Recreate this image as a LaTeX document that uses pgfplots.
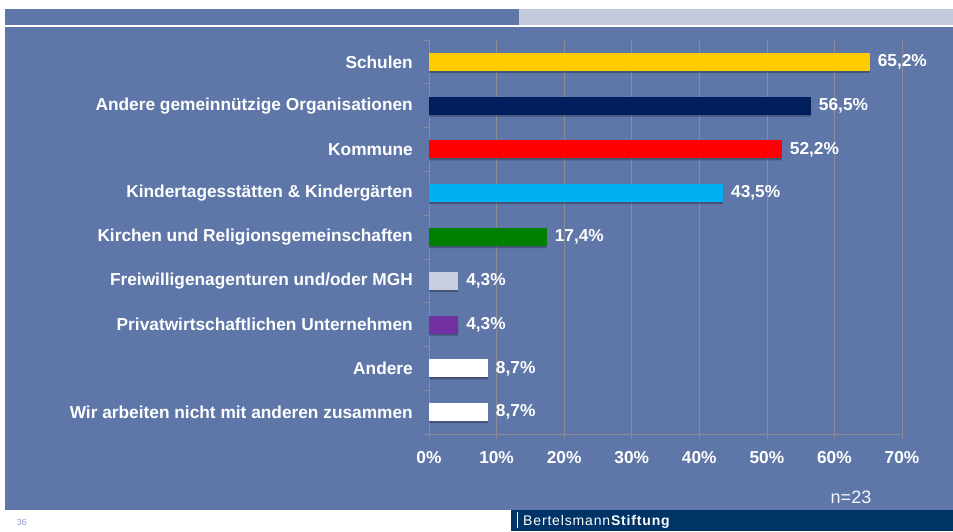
\documentclass[border=0pt]{standalone}
\usepackage{fontspec}
\setmainfont{Liberation Sans}
\usepackage{pgfplots}
\pgfplotsset{compat=1.18}
\definecolor{panel}{RGB}{94,119,168}
\definecolor{bandlight}{RGB}{195,203,221}
\definecolor{gridgray}{RGB}{138,140,150}
\definecolor{cyellow}{RGB}{255,204,0}
\definecolor{cnavy}{RGB}{0,31,92}
\definecolor{cred}{RGB}{255,0,0}
\definecolor{cblue}{RGB}{0,176,240}
\definecolor{cgreen}{RGB}{0,128,0}
\definecolor{clav}{RGB}{200,206,224}
\definecolor{cpurple}{RGB}{112,48,160}
\definecolor{bsbox}{RGB}{0,51,102}
\definecolor{pagenum}{RGB}{139,157,203}
\begin{document}
\begin{tikzpicture}
\useasboundingbox (0pt,0pt) rectangle (953pt,531pt);
\fill[white] (0pt,0pt) rectangle (953pt,531pt);
\fill[panel] (5pt,21pt) rectangle (953pt,504pt);
\fill[panel] (5pt,506pt) rectangle (519pt,522pt);
\fill[bandlight] (519pt,506pt) rectangle (953pt,522pt);
\fill[bsbox] (511pt,0pt) rectangle (953pt,21pt);
\fill[white] (516.5pt,3pt) rectangle (518pt,19pt);
\node[anchor=west, inner sep=0pt, text=white, font=\fontsize{14}{14}\selectfont\addfontfeature{LetterSpace=6}] at (523pt,9.5pt) {Bertelsmann\textbf{Stiftung}};
\node[text=pagenum, font=\fontsize{9}{9}\selectfont, inner sep=0pt] at (22pt,9pt) {36};
\node[text=white!95!gray, font=\fontsize{18}{18}\selectfont, inner sep=0pt] at (851pt,34pt) {n=23};
\begin{axis}[
  at={(429pt,97pt)}, anchor=south west,
  scale only axis, width=473pt, height=394pt,
  xmin=0, xmax=70, ymin=-0.5, ymax=8.5,
  xbar, bar width=18pt,
  axis lines*=left,
  axis line style={draw=gridgray, line width=0.7pt},
  tick style={draw=gridgray, line width=0.7pt},
  tick align=outside,
  major tick length=5pt, minor tick length=5pt,
  xtick={0,10,...,70},
  xticklabels={0\%,10\%,20\%,30\%,40\%,50\%,60\%,70\%},
  xmajorgrids,
  major grid style={draw=gridgray, line width=0.7pt},
  ytick={0,...,8},
  yticklabels={Wir arbeiten nicht mit anderen zusammen, Andere, Privatwirtschaftlichen Unternehmen, Freiwilligenagenturen und/oder MGH, Kirchen und Religionsgemeinschaften, Kindertagesstätten \& Kindergärten, Kommune, Andere gemeinnützige Organisationen, Schulen},
  minor ytick={-0.5,0.5,...,8.5},
  major y tick style={draw=none},
  ticklabel style={text=white, font=\fontsize{17.3}{20}\selectfont\bfseries},
  yticklabel style={inner sep=0pt, xshift=-11pt},
  xticklabel style={inner sep=0pt, yshift=-12pt},
  point meta=x,
  nodes near coords={\pgfmathprintnumber[fixed,fixed zerofill,precision=1,use comma,assume math mode=true]{\pgfplotspointmeta}\%},
  nodes near coords style={text=white, font=\fontsize{17.3}{20}\selectfont\bfseries, inner sep=0pt, xshift=8pt, anchor=west},
  every axis plot/.append style={draw=none, bar shift=0pt},
  clip=false
]
\addplot[draw=none, fill=black, fill opacity=0.28, bar shift=-2pt, nodes near coords={}] coordinates {(65.2,8) (56.5,7) (52.2,6) (43.5,5) (17.4,4) (4.3,3) (4.3,2) (8.7,1) (8.7,0)};
\addplot[fill=cyellow] coordinates {(65.2,8)};
\addplot[fill=cnavy] coordinates {(56.5,7)};
\addplot[fill=cred] coordinates {(52.2,6)};
\addplot[fill=cblue] coordinates {(43.5,5)};
\addplot[fill=cgreen] coordinates {(17.4,4)};
\addplot[fill=clav] coordinates {(4.3,3)};
\addplot[fill=cpurple] coordinates {(4.3,2)};
\addplot[fill=white] coordinates {(8.7,1)};
\addplot[fill=white] coordinates {(8.7,0)};
\end{axis}
\end{tikzpicture}
\end{document}
